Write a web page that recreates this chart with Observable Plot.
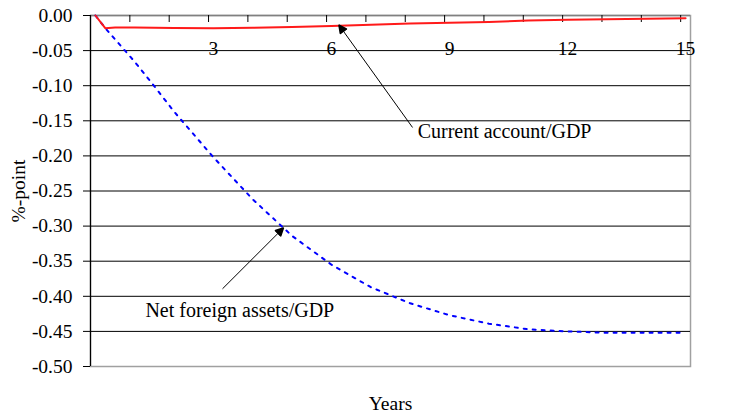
<!DOCTYPE html>
<html><head><meta charset="utf-8">
<script src="https://cdn.jsdelivr.net/npm/d3@7"></script>
<script src="https://cdn.jsdelivr.net/npm/@observablehq/plot@0.6"></script>
<style>
body{margin:0;background:#fff}
svg, svg text{font-family:"Liberation Serif","Times New Roman","DejaVu Serif",serif !important}
</style>
</head><body><div id="chart"></div>
<script>
// Years after the shock (quarterly data, shown at selected points)
const years = [0, 0.25, 0.5, 1, 1.5, 2, 3, 4, 5, 6, 7, 8, 9, 10, 11, 12, 13, 14, 15];
const currentAccount = [0, -0.018, -0.017, -0.017, -0.0175, -0.0178, -0.018, -0.0175, -0.0163, -0.015, -0.0133, -0.0115, -0.0103, -0.0092, -0.0072, -0.006, -0.0053, -0.0047, -0.0038];
const netForeignAssets = [0, -0.018, -0.034, -0.066, -0.101, -0.137, -0.202, -0.262, -0.314, -0.355, -0.387, -0.410, -0.427, -0.439, -0.447, -0.450, -0.452, -0.452, -0.452];

const yTicks = [0, -0.05, -0.10, -0.15, -0.20, -0.25, -0.30, -0.35, -0.40, -0.45, -0.50];
const xTickLabels = [3, 6, 9, 12, 15];
const xTickMarks = d3.range(0, 16).map(k => k - 0.125); // quarter-category boundaries each year
const xDomain = [-0.125, 15.125];

const annotations = [
  {label: "Current account/GDP", tx: 8.19, ty: -0.165, x1: 8.06, y1: -0.1595, x2: 6.23, y2: -0.0167},
  {label: "Net foreign assets/GDP", tx: 1.27, ty: -0.421, x1: 3.23, y1: -0.3893, x2: 4.73, y2: -0.3053}
];

const ca = years.map((t, i) => ({t, v: currentAccount[i]}));
const nfa = years.map((t, i) => ({t, v: netForeignAssets[i]}));

const W = 730, H = 416, mT = 15, mB = 50, mL = 90, mR = 40;
const plotH = H - mT - mB;
const FONT = '"Liberation Serif","Times New Roman","DejaVu Serif",serif';

const chart = Plot.plot({
  width: W, height: H,
  marginTop: mT, marginBottom: mB, marginLeft: mL, marginRight: mR,
  style: {fontFamily: FONT, background: "#fff"},
  x: {domain: xDomain, axis: null},
  y: {domain: [-0.5, 0], axis: null},
  marks: [
    Plot.frame({stroke: "#a0a0a0", strokeWidth: 1.5}),
    Plot.ruleY(yTicks.filter(d => d < 0 && d > -0.5), {stroke: "#000", strokeWidth: 1}),
    Plot.ruleY([0], {stroke: "#808080", strokeWidth: 1.5}),
    Plot.ruleX([xDomain[0]], {stroke: "#000", strokeWidth: 1.2}),
    Plot.ruleX(xTickMarks, {stroke: "#000", insetBottom: plotH - 7}),
    Plot.axisY({ticks: yTicks, tickFormat: d => d.toFixed(2), tickSize: 7, tickPadding: 11, fontSize: 19.5, label: null, stroke: "#000", fontFamily: FONT}),
    Plot.text(xTickLabels, {x: d => d, frameAnchor: "top", lineAnchor: "middle", dy: 33, fontSize: 19.5, fill: "#000", fontFamily: FONT}),
    Plot.line(nfa, {x: "t", y: "v", stroke: "#0000ff", strokeWidth: 2, strokeDasharray: "3,6"}),
    Plot.line(ca, {x: "t", y: "v", stroke: "#ff1a1a", strokeWidth: 2}),
    Plot.link(annotations, {x1: "x1", y1: "y1", x2: "x2", y2: "y2", stroke: "#000", strokeWidth: 1, markerEnd: "arrow"}),
    Plot.text(annotations, {x: "tx", y: "ty", text: "label", textAnchor: "start", fontSize: 20, fill: "#000", fontFamily: FONT}),
    Plot.text(["Years"], {frameAnchor: "bottom", lineAnchor: "middle", dy: 37, fontSize: 19.5, fill: "#000", fontFamily: FONT}),
    Plot.text(["%-point"], {frameAnchor: "left", textAnchor: "middle", lineAnchor: "middle", dx: -72, rotate: -90, fontSize: 19.5, fill: "#000", fontFamily: FONT})
  ]
});

// filled arrowheads like the original
d3.select(chart).selectAll("marker")
  .attr("markerWidth", 12).attr("markerHeight", 12)
  .attr("fill", function() { return this.getAttribute("stroke") || "#000"; })
  .select("path").attr("d", "M-4,-3L2,0L-4,3Z");

document.getElementById("chart").appendChild(chart);
</script>
</body></html>
